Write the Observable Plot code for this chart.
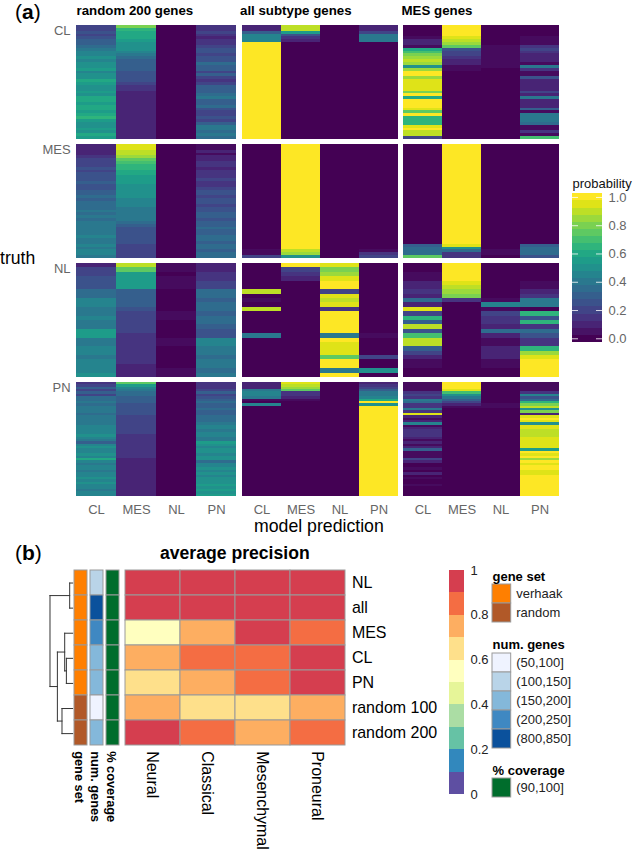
<!DOCTYPE html>
<html>
<head>
<meta charset="utf-8">
<script src="https://cdn.jsdelivr.net/npm/d3@7"></script>
<script src="https://cdn.jsdelivr.net/npm/@observablehq/plot@0.6"></script>
<style>
  html, body { margin: 0; padding: 0; background: #fff; }
  #page { position: relative; width: 633px; height: 850px; overflow: hidden; font-family: "Liberation Sans", Arial, sans-serif; }
  #page svg { position: absolute; overflow: visible; background: transparent; }
  .lab { position: absolute; white-space: nowrap; color: #000; line-height: 1; transform: translateY(-50%); }
</style>
</head>
<body>
<div id="page"></div>
<script>
// ---- panel (a): one run-length string per predicted class, top row first.
// each letter a..u is one entry of letterValues; an optional number repeats it.
const letterValues = [0, .03, .1, .15, .2, .25, .3, .35, .4, .45, .5, .55, .6, .65, .7, .75, .8, .85, .9, .95, 1];
const predictions = ["CL", "MES", "NL", "PN"];
const truths = ["CL", "MES", "NL", "PN"];

const randomCL = ["eefefgghijjkjkkljkkmlkklkmmlmmlmnlkklkml", "qnmmmlkkkjihggggffffeddc17", "a40", "ddedcddeffeffhggegedeggghigghfeefegiihih"];
const randomMES = ["ccccdeeefefffgffgghghhhihihiiiiijiijijji", "ttssrponnmmlllkkkkkjjjiiiiihgffffffeeeee", "a40", "bbcbccddcdddeddeffeffeffggfgghgghhghhghh"];
const randomNL = ["ceefffhhjjiijiilliijjijjjk", "spl4g4fe5d7c3", "bbabbbaaaaabbaaaabbaaaaabb", "ccddeehhghhghhgffjjiihiihi"];
const randomPN = ["degegehhihiiihiiiijjjjkjigjkjjkjmjijjijjkjkjjijj", "pljihhgggf5e8d10c16", "a48", "dddegefghgghgghhhijjijjiilkjkkjkkhjjkjkjkkklklkl"];

const allCL = ["c2gj3u34", "sslfdca34", "a40", "c2ei3a34"];
const allMES = ["a37b2e", "u37srk", "a40", "a37bde"];
const allNL = ["a6sabasa5ia9", "uedca22", "tqrtuuetstduuuuuiutttpuuiu", "a16ba4ea2ka"];
const allPN = ["cccijjibaja38", "tsrpddcba40", "a48", "cdegiijmuku38"];

const mesCL = ["aaaabccbmoqrsrkruurttttqumuuutpunnntusse", "uuuutsrpfeedccbba24", "a7b8a25", "aaaabbbdedcccbidbbfccccecicccgbiiihbbdbo"];
const mesMES = ["a35gh3p", "u35tkhdd", "a37b2a", "a35gh3f"];
const mesNL = ["aabbccdchctengsfossgecbbaa", "uuuutsrqda17", "a8bjbed2chcbbc3bbaa", "aaaabbcdiianfndhfddnrtuuuu"];
const mesPN = ["bbbbdedihddidtcbcjbcdddcbcbcgbbbecaabacabaabaaaa", "uuutokigecba37", "a9b2a37", "bbbbdjfhnqskqctutkttssstttttluturutuuttuu8"];

const probLevels = [0, .05, .1, .15, .2, .25, .3, .35, .4, .45, .5, .55, .6, .65, .7, .75, .8, .85, .9, .95, 1];
const probTicks = [0, .2, .4, .6, .8, 1];

// ---- panel (b)
const apColumns = ["Neural", "Classical", "Mesenchymal", "Proneural"];
const apRows = ["NL", "all", "MES", "CL", "PN", "random 100", "random 200"];
const apNL = [.95, .95, .95, .95];
const apAll = [.95, .95, .95, .95];
const apMES = [.55, .75, .95, .85];
const apCL = [.75, .85, .85, .95];
const apPN = [.65, .75, .85, .95];
const apRandom100 = [.75, .65, .65, .75];
const apRandom200 = [.95, .85, .75, .85];

const apThresholds = [.1, .2, .3, .4, .5, .6, .7, .8, .9];
const apColors = ["#5e4fa2", "#3288bd", "#66c2a5", "#abdda4", "#e6f598", "#ffffbf", "#fee08b", "#fdae61", "#f46d43", "#d53e4f"];
const apBinStarts = [0, .1, .2, .3, .4, .5, .6, .7, .8, .9];
const apTicks = [0, .2, .4, .6, .8, 1];

const geneSetLabels = ["verhaak", "random"];
const geneSetColors = ["#ff7f00", "#b15928"];
const numGenesLabels = ["(50,100]", "(100,150]", "(150,200]", "(200,250]", "(800,850]"];
const numGenesColors = ["#eff3ff", "#b9d4e8", "#84b8da", "#3f88c2", "#0b519c"];
const coverageLabels = ["(90,100]"];
const coverageColors = ["#006d2c"];

const annotationNames = ["gene set", "num. genes", "% coverage"];
const rowGeneSet = ["verhaak", "verhaak", "verhaak", "verhaak", "verhaak", "random", "random"];
const rowNumGenes = ["(100,150]", "(800,850]", "(200,250]", "(150,200]", "(150,200]", "(50,100]", "(150,200]"];
const rowCoverage = ["(90,100]", "(90,100]", "(90,100]", "(90,100]", "(90,100]", "(90,100]", "(90,100]"];

const merges = [
  {id: "A", left: "NL", right: "all", height: 3},
  {id: "B", left: "CL", right: "PN", height: 6.3},
  {id: "C", left: "MES", right: "B", height: 8},
  {id: "D", left: "random 100", right: "random 200", height: 10.7},
  {id: "E", left: "C", right: "D", height: 15.3},
  {id: "F", left: "A", right: "E", height: 22.7}
];

// ---- helpers
const page = document.getElementById("page");
const FONT = '"Liberation Sans", Arial, sans-serif';
const GREY = "#666";
const LINE = "#9a9a9a";

function place(svg, left, top) {
  svg.style.left = left + "px";
  svg.style.top = top + "px";
  page.appendChild(svg);
}
function label(html, x, y, css = "") {
  const d = document.createElement("div");
  d.className = "lab";
  d.innerHTML = html;
  d.style.cssText = `left:${x}px;top:${y}px;${css}`;
  page.appendChild(d);
}
function decode(panel, truth) {
  const out = [];
  panel.forEach((text, c) => {
    const runs = [...text.matchAll(/([a-u])(\d*)/g)].map(m => ({
      value: letterValues[m[1].charCodeAt(0) - 97],
      count: m[2] ? +m[2] : 1
    }));
    const n = d3.sum(runs, r => r.count);
    let at = 0;
    for (const r of runs) {
      out.push({truth, prediction: predictions[c], from: at / n, to: (at + r.count) / n, value: r.value});
      at += r.count;
    }
  });
  return out;
}

// ---- panel (a) heatmaps
const TOP = 24, BOTTOM = 497;
function heatColumn(panels, left, plotWidth, marginLeft, withRowLabels) {
  const rows = truths.flatMap((t, i) => decode(panels[i], t));
  const marks = [
    Plot.barY(rows, {x: "prediction", y1: "from", y2: "to", fy: "truth", fill: "value", shapeRendering: "crispEdges"}),
    Plot.axisX({tickSize: 0, tickPadding: 8, fontSize: 13, fill: GREY, label: null})
  ];
  if (withRowLabels) {
    marks.push(Plot.text(truths, {fy: d => d, text: d => d, frameAnchor: "top-left", textAnchor: "end", lineAnchor: "top", dx: -5.5, fontSize: 13, fill: GREY}));
  }
  const svg = Plot.plot({
    width: plotWidth, height: 527,
    marginTop: TOP, marginBottom: 527 - BOTTOM, marginLeft, marginRight: 0,
    style: {fontFamily: FONT, background: "transparent", overflow: "visible"},
    x: {domain: predictions, padding: 0, axis: null},
    y: {domain: [0, 1], reverse: true, axis: null},
    fy: {domain: truths, paddingInner: 0.046, paddingOuter: 0, axis: null, label: null},
    color: {type: "linear", scheme: "viridis", domain: [0, 1]},
    marks
  });
  place(svg, left, 0);
}
heatColumn([randomCL, randomMES, randomNL, randomPN], 0, 236.6, 75.6, true);
heatColumn([allCL, allMES, allNL, allPN], 241.6, 156.2, 0, false);
heatColumn([mesCL, mesMES, mesNL, mesPN], 402.7, 156.3, 0, false);

label('(<b>a</b>)', 15, 10.5, "font-size:21px;");
label('random 200 genes', 76.5, 11, "font-size:13.3px;font-weight:bold;");
label('all subtype genes', 240, 11, "font-size:13.3px;font-weight:bold;");
label('MES genes', 401.5, 11, "font-size:13.3px;font-weight:bold;");
label('truth', 0, 258.5, "font-size:17.6px;");
label('model prediction', 254, 527, "font-size:17.7px;");

// ---- probability colour bar
place(Plot.plot({
  width: 61.3, height: 176,
  marginTop: 22.7, marginBottom: 176 - 171.7, marginLeft: 0, marginRight: 31.3,
  style: {fontFamily: FONT, background: "transparent", overflow: "visible"},
  x: {domain: [0, 1], axis: null},
  y: {domain: [-.024, 1.03], axis: null},
  color: {type: "linear", scheme: "viridis", domain: [0, 1]},
  marks: [
    Plot.rect(probLevels, {x1: 0, x2: 1, y1: d => d - .025, y2: d => Math.min(d + .025, 1.03), fill: d => d, shapeRendering: "crispEdges"}),
    Plot.ruleY(probTicks, {x1: 0, x2: .2, stroke: "white", strokeWidth: .8}),
    Plot.ruleY(probTicks, {x1: .8, x2: 1, stroke: "white", strokeWidth: .8}),
    Plot.axisY(probTicks, {anchor: "right", tickSize: 0, tickPadding: 6, tickFormat: d3.format(".1f"), fontSize: 13, fill: GREY, label: null}),
    Plot.text(["probability"], {frameAnchor: "top-left", lineAnchor: "bottom", dy: -5, fontSize: 13, fill: "#111"})
  ]
}), 571.7, 170);

// ---- panel (b)
label('(<b>b</b>)', 15, 552, "font-size:21px;");
label('average precision', 160, 553.5, "font-size:17.6px;font-weight:bold;");

const B_TOP = 560, CELL_TOP = 10, CELL_H = 175.7, B_H = 290;
const plotBase = {
  height: B_H, marginTop: CELL_TOP, marginBottom: B_H - CELL_TOP - CELL_H,
  style: {fontFamily: FONT, background: "transparent", overflow: "visible"}
};

// dendrogram
const nodeY = new Map(apRows.map((r, i) => [r, i + .5]));
const nodeH = new Map(apRows.map(r => [r, 0]));
const links = [];
for (const m of merges) {
  const y1 = nodeY.get(m.left), y2 = nodeY.get(m.right);
  links.push({x1: m.height, x2: m.height, y1, y2});
  links.push({x1: m.height, x2: nodeH.get(m.left), y1, y2: y1});
  links.push({x1: m.height, x2: nodeH.get(m.right), y1: y2, y2});
  nodeY.set(m.id, (y1 + y2) / 2);
  nodeH.set(m.id, m.height);
}
place(Plot.plot({
  ...plotBase, width: 72.2, marginLeft: 49.5, marginRight: 0,
  x: {domain: [22.7, 0], axis: null},
  y: {domain: [7, 0], axis: null},
  marks: [Plot.link(links, {x1: "x1", y1: "y1", x2: "x2", y2: "y2", stroke: "#333", strokeWidth: 1, strokeLinecap: "square"})]
}), 0, B_TOP);

// annotation columns
const annotation = apRows.flatMap((r, i) => [
  {row: r, column: annotationNames[0], value: rowGeneSet[i]},
  {row: r, column: annotationNames[1], value: rowNumGenes[i]},
  {row: r, column: annotationNames[2], value: rowCoverage[i]}
]);
place(Plot.plot({
  ...plotBase, width: 46.8, marginLeft: 0, marginRight: 0,
  x: {domain: annotationNames, paddingInner: .164, paddingOuter: 0, axis: null},
  y: {domain: apRows, padding: 0, axis: null},
  color: {type: "ordinal",
    domain: [...geneSetLabels, ...numGenesLabels, ...coverageLabels],
    range: [...geneSetColors, ...numGenesColors, ...coverageColors]},
  marks: [
    Plot.cell(annotation, {x: "column", y: "row", fill: "value", stroke: LINE, strokeWidth: 1}),
    Plot.axisX({tickRotate: 90, tickSize: 0, tickPadding: 5, dx: -2.2, fontSize: 12.8, fontWeight: "bold", fill: "#000", label: null})
  ]
}), 72.6, B_TOP);

// average-precision heatmap
const apValues = [apNL, apAll, apMES, apCL, apPN, apRandom100, apRandom200];
const apCells = apRows.flatMap((r, i) => apColumns.map((c, j) => ({row: r, column: c, value: apValues[i][j]})));
place(Plot.plot({
  ...plotBase, width: 223.4 + 100, marginLeft: 0, marginRight: 100,
  x: {domain: apColumns, padding: 0, axis: null},
  y: {domain: apRows, padding: 0, axis: null},
  color: {type: "threshold", domain: apThresholds, range: apColors},
  marks: [
    Plot.cell(apCells, {x: "column", y: "row", fill: "value", stroke: LINE, strokeWidth: 1}),
    Plot.axisX({tickRotate: 90, tickSize: 0, tickPadding: 5, dx: -1, fontSize: 16, fill: "#000", label: null}),
    Plot.axisY({anchor: "right", tickSize: 0, tickPadding: 5, fontSize: 16, fill: "#000", label: null})
  ]
}), 123.4, B_TOP);

// average-precision colour bar
place(Plot.plot({
  width: 45, height: 244, marginTop: 10, marginBottom: 10, marginLeft: 0, marginRight: 30,
  style: {fontFamily: FONT, background: "transparent", overflow: "visible"},
  x: {domain: [0, 1], axis: null},
  y: {domain: [0, 1], axis: null},
  color: {type: "threshold", domain: apThresholds, range: apColors},
  marks: [
    Plot.rect(apBinStarts, {x1: 0, x2: 1, y1: d => d, y2: d => d + .1, fill: d => d + .05, shapeRendering: "crispEdges"}),
    Plot.axisY(apTicks, {anchor: "right", tickSize: 0, tickPadding: 6, fontSize: 13, fill: "#222", tickFormat: d => String(d), label: null})
  ]
}), 449.3, 560);

// swatch legends
function swatches(title, labels, colors, swatchTop) {
  const marginTop = 18;
  place(Plot.plot({
    width: 125, height: marginTop + labels.length * 19.3,
    marginTop, marginBottom: 0, marginLeft: 0, marginRight: 125 - 18.7,
    style: {fontFamily: FONT, background: "transparent", overflow: "visible"},
    x: {axis: null},
    y: {domain: labels, padding: 0, axis: null},
    color: {domain: labels, range: colors},
    marks: [
      Plot.cell(labels, {y: d => d, fill: d => d, stroke: LINE, strokeWidth: 1}),
      Plot.axisY({anchor: "right", tickSize: 0, tickPadding: 5, fontSize: 13, fill: "#222", label: null}),
      Plot.text([title], {frameAnchor: "top-left", lineAnchor: "bottom", dy: -3.5, fontSize: 13, fontWeight: "bold", fill: "#000"})
    ]
  }), 492.4, swatchTop - marginTop);
}
swatches("gene set", geneSetLabels, geneSetColors, 584.3);
swatches("num. genes", numGenesLabels, numGenesColors, 652);
swatches("% coverage", coverageLabels, coverageColors, 777.7);
</script>
</body>
</html>
